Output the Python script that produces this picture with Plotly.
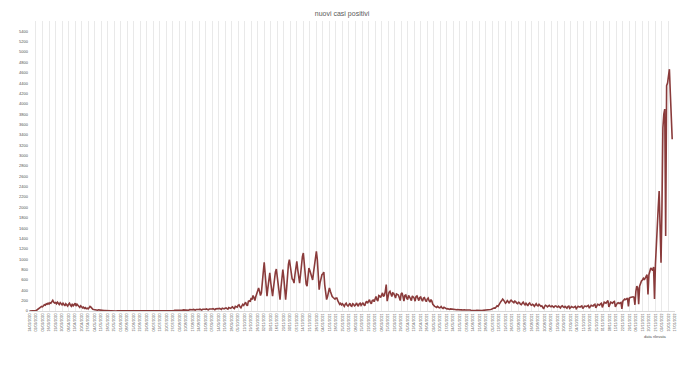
import pandas as pd
import plotly.graph_objects as go

title_text = "nuovi casi positivi"
x_title = "data rilevata"
start_date = "2020-02-24"

# daily new positive cases, one row per week
nuovi_positivi = [
    0, 0, 0, 1, 2, 4, 6,
    10, 20, 35, 50, 60, 75, 90,
    80, 100, 120, 110, 140, 130, 150,
    135, 160, 150, 175, 205, 170, 155,
    165, 140, 170, 150, 125, 160, 145,
    120, 150, 130, 100, 140, 110, 95,
    130, 150, 110, 90, 140, 100, 120,
    150, 95, 130, 110, 85, 70, 100,
    80, 60, 75, 50, 65, 45, 55,
    40, 60, 90, 75, 50, 35, 30,
    25, 30, 20, 15, 22, 18, 12,
    14, 10, 12, 8, 9, 6, 7,
    5, 6, 4, 3, 5, 2, 3,
    2, 3, 1, 2, 2, 1, 1,
    1, 0, 1, 2, 0, 1, 1,
    0, 1, 0, 1, 2, 0, 1,
    1, 0, 2, 1, 0, 1, 0,
    1, 2, 0, 1, 1, 0, 2,
    2, 1, 3, 2, 1, 2, 3,
    3, 2, 4, 5, 3, 2, 4,
    5, 4, 6, 8, 5, 4, 7,
    8, 6, 10, 9, 7, 12, 10,
    12, 9, 15, 14, 10, 18, 15,
    14, 20, 18, 12, 22, 20, 16,
    20, 25, 18, 15, 28, 24, 20,
    25, 30, 22, 18, 30, 28, 22,
    30, 35, 25, 20, 35, 32, 28,
    35, 40, 30, 22, 38, 35, 30,
    40, 45, 32, 25, 42, 40, 35,
    45, 50, 38, 30, 55, 48, 40,
    55, 60, 45, 35, 65, 60, 50,
    70, 80, 55, 45, 90, 85, 75,
    110, 120, 80, 60, 100, 130, 110,
    150, 170, 120, 100, 190, 200, 180,
    250, 220, 300, 260, 200, 280, 350,
    420, 445, 380, 300, 350, 500, 750,
    940, 650, 400, 285, 450, 600, 735,
    550, 380, 285, 450, 620, 750, 810,
    650, 420, 260, 220, 450, 680, 800,
    650, 400, 220, 420, 700, 900, 990,
    850, 700, 620, 600, 540, 700, 850,
    960, 800, 620, 540, 700, 900, 1050,
    1120, 900, 650, 520, 480, 650, 830,
    780, 700, 650, 600, 750, 900, 1050,
    1150, 1000, 600, 410, 550, 650, 700,
    720, 750, 500, 300, 220, 280, 380,
    445, 380, 300, 280, 260, 250, 230,
    250, 250, 200, 170, 130, 150, 120,
    140, 100, 90, 130, 150, 110, 95,
    120, 150, 100, 90, 140, 130, 100,
    110, 155, 120, 90, 140, 150, 110,
    130, 160, 120, 100, 170, 180, 150,
    190, 220, 160, 140, 200, 210, 180,
    230, 280, 220, 190, 300, 290, 260,
    320, 350, 280, 300, 380, 510, 190,
    300, 360, 380, 330, 280, 350, 340,
    300, 250, 330, 320, 310, 260, 200,
    330, 350, 280, 190, 300, 310, 250,
    220, 300, 280, 240, 200, 290, 270,
    250, 190, 280, 290, 230, 200, 260,
    270, 220, 190, 250, 260, 210, 180,
    230, 250, 200, 170, 220, 190, 130,
    100, 90, 80, 70, 90, 75, 60,
    65, 85, 60, 50, 70, 55, 45,
    40, 45, 35, 30, 40, 35, 30,
    35, 30, 28, 25, 32, 28, 25,
    28, 25, 22, 20, 25, 22, 18,
    20, 18, 15, 14, 18, 15, 12,
    14, 12, 10, 11, 13, 10, 9,
    11, 12, 10, 9, 13, 14, 12,
    15, 18, 20, 16, 25, 30, 35,
    45, 50, 60, 55, 80, 100, 90,
    130, 150, 180, 200, 230, 210, 190,
    150, 170, 200, 180, 150, 190, 210,
    190, 170, 160, 190, 180, 150, 140,
    170, 160, 130, 120, 150, 170, 140,
    120, 150, 130, 100, 140, 155, 120,
    110, 130, 120, 90, 120, 140, 110,
    100, 130, 110, 90, 100, 80, 40,
    90, 110, 100, 80, 95, 110, 90,
    80, 100, 90, 70, 95, 100, 80,
    75, 95, 85, 60, 90, 100, 80,
    70, 90, 80, 55, 85, 95, 50,
    70, 85, 75, 65, 80, 90, 45,
    70, 90, 80, 75, 90, 100, 50,
    75, 95, 90, 85, 100, 110, 55,
    85, 110, 100, 95, 120, 130, 60,
    100, 130, 120, 110, 140, 150, 70,
    140, 170, 160, 150, 180, 200, 80,
    140, 170, 160, 150, 175, 185, 80,
    130, 150, 160, 145, 155, 165, 40,
    190, 210, 230, 220, 240, 250, 90,
    250, 260, 270, 280, 275, 265, 120,
    380, 480, 445, 130, 480, 540, 580,
    600, 630, 600, 650, 670, 700, 320,
    700, 800, 830, 810, 780, 850, 230,
    900, 1380, 1700, 2000, 2315, 1600, 930,
    2000, 3540, 3800, 3900, 1450, 4350, 4400,
    4550, 4670, 4200, 3700, 3315,
]

y_ticks = list(range(0, 5600, 200))

dates = pd.date_range(start_date, periods=len(nuovi_positivi), freq="D")

fig = go.Figure()
fig.add_trace(go.Scatter(
    x=dates, y=nuovi_positivi, mode="lines",
    line=dict(color="#8a3b3b", width=1.6),
    showlegend=False, hoverinfo="x+y",
))

fig.update_layout(
    width=680, height=375,
    margin=dict(l=29, r=5, t=21, b=64),
    paper_bgcolor="white", plot_bgcolor="white",
    font=dict(family="Liberation Sans, Arial, sans-serif", color="#595959"),
    title=dict(text=title_text, x=0.503, xanchor="center", y=0.963, yanchor="middle",
               font=dict(size=7, color="#595959")),
)

fig.update_xaxes(
    type="date", automargin=False,
    range=["2020-02-23 12:00", "2022-01-17"],
    tick0=start_date, dtick=7 * 86400000,
    tickformat="%d/%m/%Y", tickangle=-90,
    tickfont=dict(size=3.6, color="#505050"),
    showgrid=True, gridcolor="#e9e9e9", gridwidth=1,
    showline=True, linecolor="#d9d9d9", linewidth=1,
    ticks="", zeroline=False,
)
fig.update_yaxes(
    range=[0, 5600], automargin=False,
    tickmode="array", tickvals=y_ticks, ticktext=[str(v) for v in y_ticks],
    tickfont=dict(size=4, color="#505050"),
    showgrid=False, zeroline=False, showline=False, ticks="",
)

fig.add_annotation(
    text=x_title, xref="paper", yref="paper", x=0.99, y=-0.072,
    xanchor="right", yanchor="top", showarrow=False,
    font=dict(size=4, color="#505050"),
)

fig.write_html(
    "out.html",
    config={"displayModeBar": False},
    post_script="document.body.style.margin='0';document.body.style.overflow='hidden';",
)
